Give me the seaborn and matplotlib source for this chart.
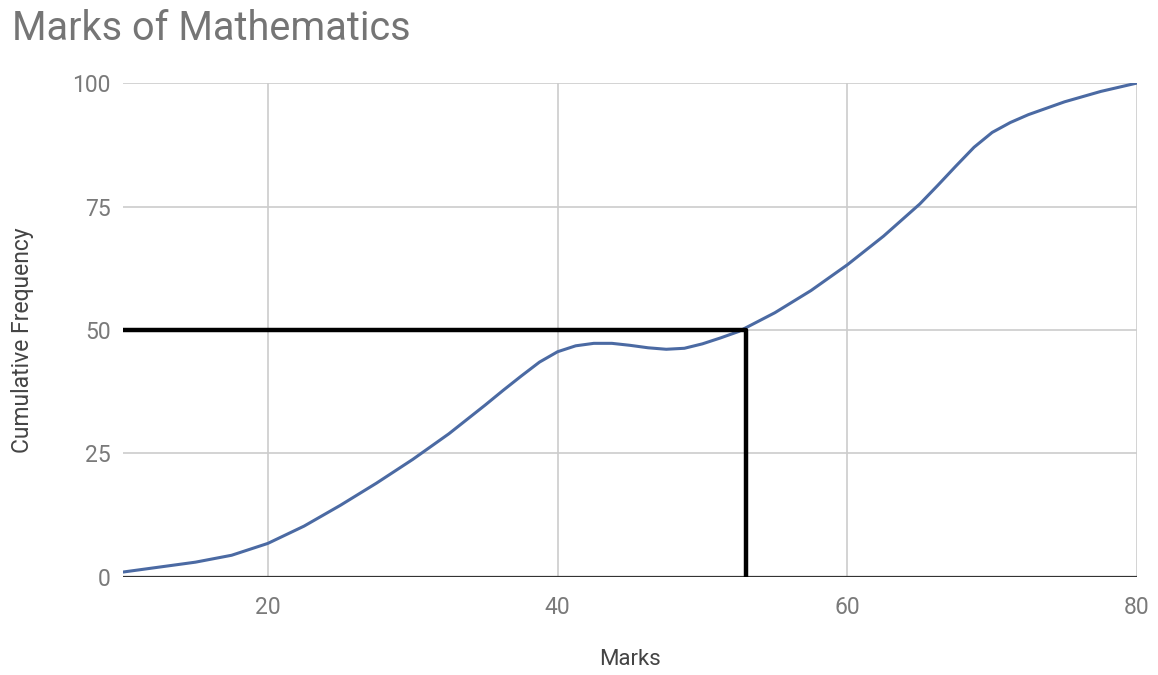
# import libraries
import matplotlib
matplotlib.use("Agg")
import pandas as pd  # for the dataframe
import matplotlib.pyplot as plt  # for plotting
import seaborn as sns  # for the line

# values (marks vs cumulative frequency)
marks = [10, 12.5, 15, 17.5, 20, 22.5, 25, 27.5, 30, 32.5, 35, 36.25, 37.5, 38.75,
         40, 41.25, 42.5, 43.75, 45, 46.25, 47.5, 48.75, 50, 51.25, 52.5, 55, 57.5,
         60, 62.5, 65, 66.25, 67.5, 68.75, 70, 71.25, 72.5, 75, 77.5, 80]
cum_freq = [1.0, 2.0, 3.0, 4.4, 6.8, 10.3, 14.5, 19.0, 23.8, 29.0, 34.8, 37.8, 40.7, 43.5,
            45.6, 46.8, 47.3, 47.3, 46.9, 46.4, 46.1, 46.3, 47.2, 48.4, 49.7, 53.5, 58.0,
            63.2, 69.0, 75.5, 79.3, 83.2, 87.0, 90.0, 92.0, 93.6, 96.2, 98.3, 100]

# median guide lines (50 -> 53 marks)
median_x = [10, 53, 53]
median_y = [50, 50, 0]

x_ticks = [20, 40, 60, 80]
y_ticks = [0, 25, 50, 75, 100]

data = pd.DataFrame({"Marks": marks, "Cumulative Frequency": cum_freq})

sns.set_style("white")
plt.rcParams['font.family'] = ['Roboto', 'DejaVu Sans']

fig = plt.figure(figsize=(11.58, 6.75), dpi=100)
ax = fig.add_axes([0.1062, 0.1452, 0.8757, 0.7318])

# grid lines
for x in x_ticks:
    ax.axvline(x, color='#cccccc', lw=1.2, zorder=0)
for y in y_ticks[1:]:
    ax.axhline(y, color='#cccccc', lw=1.2, zorder=0)
ax.axhline(0, color='#333333', lw=1.6, zorder=1)

sns.lineplot(data=data, x="Marks", y="Cumulative Frequency", ax=ax,
             color='#4b6aa3', lw=2.2, zorder=3)
ax.plot(median_x, median_y, color='black', lw=3.2, zorder=4, solid_capstyle='butt')

ax.set_xlim(10, 80)
ax.set_ylim(0, 100)
ax.set_xticks(x_ticks)
ax.set_yticks(y_ticks)
ax.tick_params(axis='both', length=0, labelsize=16.5, labelcolor='#7a7a7a')
ax.tick_params(axis='x', pad=14)
ax.tick_params(axis='y', pad=9)
for s in ax.spines.values():
    s.set_visible(False)

ax.set_xlabel("Marks", fontsize=16, color='#444444', labelpad=21)
ax.set_ylabel("Cumulative Frequency", fontsize=16.5, color='#444444', labelpad=27)
ax.yaxis.set_label_coords(-0.088, 0.48)

fig.text(0.010, 0.958, "Marks of Mathematics", fontsize=28.5, color='#757575', va='center')

plt.savefig('out.png', dpi=100)
plt.close()
